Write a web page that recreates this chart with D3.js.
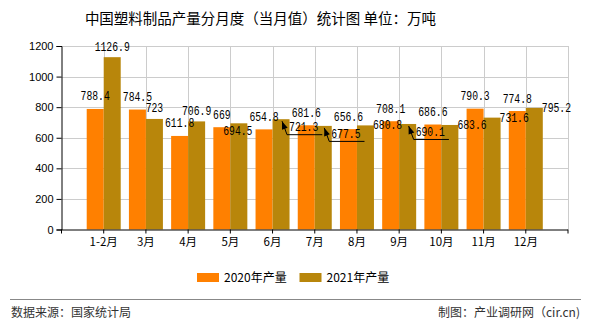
<!DOCTYPE html>
<html><head><meta charset="utf-8">
<script src="https://cdn.jsdelivr.net/npm/d3@7"></script>
<style>
html,body{margin:0;padding:0;background:#fff;}
svg{display:block;}
</style></head>
<body>
<svg id="chart" width="590" height="330"></svg>
<script>
const categories = ["1-2月","3月","4月","5月","6月","7月","8月","9月","10月","11月","12月"];
const values2020 = [788.4,784.5,611.8,669,654.8,681.6,656.6,708.1,686.6,790.3,774.8];
const values2021 = [1126.9,723,706.9,694.5,721.3,677.5,680.8,690.1,683.6,731.6,795.2];
const seriesNames = ["2020年产量","2021年产量"];
const yTicks = [0,200,400,600,800,1000,1200];
// label placement modes for the 2021 series (layout only)
const label2021Mode = ["top","top","top","inside","leader","leader","right","leader","right","right","right"];

const colors = ["#FF8000","#B8860B"];
const svg = d3.select("#chart");
const L = 61.5, R = 568, T = 46, B = 229.5;
const step = (R - L) / 12;
const x = d3.scaleBand().domain(categories).range([L + step/2, R - step/2]).paddingInner(0).paddingOuter(0);
const y = d3.scaleLinear().domain([0,1200]).range([B, T]);
const barW = 17;
const cx = c => x(c) + x.bandwidth()/2;

// title
svg.append("text").attr("x",260.5).attr("y",24).attr("text-anchor","middle")
  .style("font-family","'Noto Sans CJK SC',sans-serif").style("font-size","14.5px").attr("fill","#000")
  .text("中国塑料制品产量分月度（当月值）统计图 单位：万吨");

// grid
const g = svg.append("g");
g.selectAll(".hg").data(yTicks.filter(d=>d>0)).enter().append("line")
  .attr("x1",L).attr("x2",R).attr("y1",d=>Math.round(y(d))+0.5).attr("y2",d=>Math.round(y(d))+0.5)
  .attr("stroke","#cccccc").attr("stroke-width",1);
g.selectAll(".vg").data(categories).enter().append("line")
  .attr("x1",d=>Math.round(cx(d))+0.5).attr("x2",d=>Math.round(cx(d))+0.5).attr("y1",T).attr("y2",B)
  .attr("stroke","#cccccc").attr("stroke-width",1);
g.append("line").attr("x1",R+0.5).attr("x2",R+0.5).attr("y1",T).attr("y2",B).attr("stroke","#cccccc");

// bars
const bars = svg.append("g");
bars.selectAll(".b0").data(categories).enter().append("rect")
  .attr("x",d=>cx(d)-barW).attr("width",barW)
  .attr("y",(d,i)=>y(values2020[i])).attr("height",(d,i)=>B - y(values2020[i]))
  .attr("fill",colors[0]);
bars.selectAll(".b1").data(categories).enter().append("rect")
  .attr("x",d=>cx(d)).attr("width",barW)
  .attr("y",(d,i)=>y(values2021[i])).attr("height",(d,i)=>B - y(values2021[i]))
  .attr("fill",colors[1]);

// axes
const yAxis = d3.axisLeft(y).tickValues(yTicks).tickSize(5).tickPadding(3).tickFormat(d3.format("d"));
const ya = svg.append("g").attr("transform",`translate(${L},0)`).call(yAxis);
ya.select(".domain").attr("stroke","#000");
ya.selectAll(".tick line").attr("stroke","#000");
ya.selectAll("text").style("font-family","'Liberation Sans',Arial,sans-serif").style("font-size","11px").attr("fill","#000");

const xAxis = d3.axisBottom(x).tickSize(4).tickSizeOuter(0).tickPadding(4);
const xa = svg.append("g").attr("transform",`translate(0,${B})`).call(xAxis);
xa.select(".domain").attr("d",`M${L},0.5H${R}`).attr("stroke","#000");
xa.selectAll(".tick line").attr("stroke","#000");
xa.selectAll("text").style("font-family","'Noto Sans CJK SC',sans-serif").style("font-size","11.5px").attr("fill","#000");
[L,R].forEach(px=>xa.append("line").attr("x1",px).attr("x2",px).attr("y1",0).attr("y2",4).attr("stroke","#000"));

// value labels
const lab = svg.append("g").style("font-family","'Liberation Mono','DejaVu Sans Mono',monospace").style("font-size","12px").attr("fill","#000");
const charW = 5.85;
function addLabel(txt, xl, yc){
  const w = txt.length*charW;
  lab.append("text").attr("x",xl).attr("y",yc+4).attr("textLength",w).attr("lengthAdjust","spacingAndGlyphs").text(txt);
  return w;
}
categories.forEach((c,i)=>{
  const t = String(values2020[i]);
  const xc = cx(c) - barW/2;
  addLabel(t, xc - t.length*charW/2, y(values2020[i]) - 12.5);
});
categories.forEach((c,i)=>{
  const t = String(values2021[i]);
  const bc = cx(c) + barW/2;
  const top = y(values2021[i]);
  const w = t.length*charW;
  const mode = label2021Mode[i];
  if(mode==="top"){ addLabel(t, bc - w/2, top - 10.5); }
  else if(mode==="inside"){ addLabel(t, bc - 1 - w/2, top + 7.5); }
  else if(mode==="right"){ addLabel(t, bc + barW/2 - 1, top); }
  else {
    const xl = bc + 8, yc = top + 8;
    addLabel(t, xl, yc);
    const tip = [bc + 1, top + 2], bend = [xl - 2, yc + 7.5], end = [xl + w + 4, yc + 7.5];
    lab.append("path").attr("d",`M${tip[0]},${tip[1]}L${bend[0]},${bend[1]}L${end[0]},${end[1]}`)
      .attr("fill","none").attr("stroke","#000").attr("stroke-width",1);
    const ang = Math.atan2(tip[1]-bend[1], tip[0]-bend[0]);
    const len = 8, hw = 3;
    const bx = tip[0]-len*Math.cos(ang), by = tip[1]-len*Math.sin(ang);
    const px = -Math.sin(ang)*hw, py = Math.cos(ang)*hw;
    lab.append("path").attr("d",`M${tip[0]},${tip[1]}L${bx+px},${by+py}L${bx-px},${by-py}Z`).attr("fill","#000");
  }
});

// legend
const lg = svg.append("g").style("font-family","'Noto Sans CJK SC',sans-serif").style("font-size","12px");
const legX = [197, 299.5];
seriesNames.forEach((n,i)=>{
  lg.append("rect").attr("x",legX[i]).attr("y",273).attr("width",22).attr("height",9).attr("fill",colors[i]);
  lg.append("text").attr("x",legX[i]+27).attr("y",282).attr("fill","#000").text(n);
});

// footer
svg.append("line").attr("x1",10).attr("x2",581).attr("y1",299.5).attr("y2",299.5).attr("stroke","#888").attr("stroke-width",1);
svg.append("text").attr("x",11).attr("y",317).style("font-family","'Noto Sans CJK SC',sans-serif").style("font-size","12px").attr("fill","#333").text("数据来源：国家统计局");
svg.append("text").attr("x",580).attr("y",317).attr("text-anchor","end").style("font-family","'Noto Sans CJK SC',sans-serif").style("font-size","12px").attr("fill","#333").text("制图：产业调研网（cir.cn)");
</script>
</body></html>
